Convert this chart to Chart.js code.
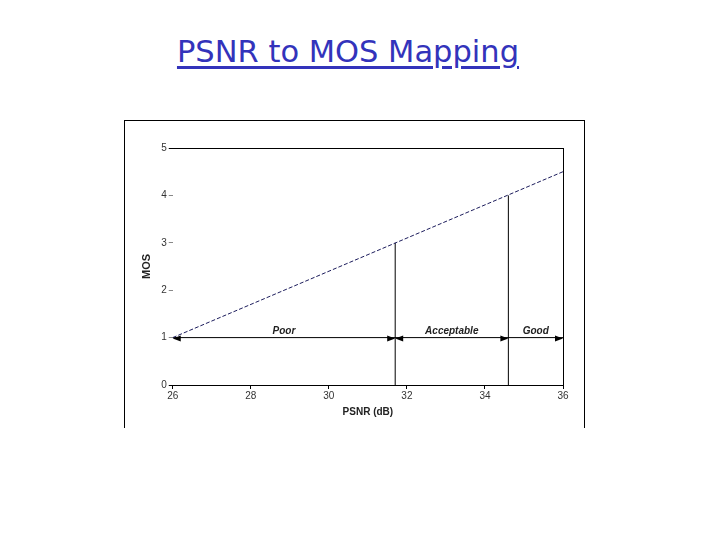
<!DOCTYPE html>
<html>
<head>
<meta charset="utf-8">
<script src="https://cdn.jsdelivr.net/npm/chart.js@4/dist/chart.umd.min.js"></script>
<style>
  body { margin: 0; background: #fff; }
  #wrap { position: relative; width: 720px; height: 540px; }
  #title {
    position: absolute; left: 0; top: 35px; width: 696px; text-align: center;
    font-family: "Comic Sans MS", "DejaVu Sans", sans-serif; font-size: 30.5px;
    color: #3333bb; text-decoration: underline; text-underline-offset: 4px;
    margin: 0; font-weight: normal; line-height: 1.1;
  }
  #frame {
    position: absolute; left: 124px; top: 120px; width: 459px; height: 307px;
    border: 1px solid #000; border-bottom: none;
  }
  canvas { position: absolute; left: 0; top: 0; }
</style>
</head>
<body>
<div id="wrap">
  <div id="frame"></div>
  <h1 id="title">PSNR to MOS Mapping</h1>
  <canvas id="chart" width="720" height="540"></canvas>
</div>
<script>
// DATOS DEL GRAFICO
const psnr = [26, 36];          // dB, extremos de la recta
const mos = [1, 4.5];           // MOS en esos extremos
const zoneEdges = [26, 31.7, 34.6, 36];
const edgeMos = [1, 3, 4, 4.5]; // altura de la recta en cada borde
const zoneNames = ["Poor", "Acceptable", "Good"];
const xTicks = [26, 28, 30, 32, 34, 36];
const yTicks = [0, 1, 2, 3, 4, 5];
const arrowLevel = 1;
const leftArrows = [26, 31.7];          // puntas hacia la izquierda
const rightArrows = [31.7, 34.6, 36];   // puntas hacia la derecha

// la recta discontinua
const mapping = psnr.map((x, i) => ({ x: x, y: mos[i] }));

// verticales en los bordes internos
const dividers = [];
for (let i = 1; i < zoneEdges.length - 1; i++) {
  dividers.push({
    data: [{ x: zoneEdges[i], y: 0 }, { x: zoneEdges[i], y: edgeMos[i] }],
    showLine: true, borderColor: "#000", borderWidth: 1, pointRadius: 0
  });
}

// textos de zona y puntas de flecha
const zoneMarks = {
  id: "zoneMarks",
  afterDatasetsDraw(chart) {
    const ctx = chart.ctx;
    const xs = chart.scales.x, ys = chart.scales.y;
    const yp = Math.round(ys.getPixelForValue(arrowLevel)) + 0.5;
    ctx.save();
    ctx.fillStyle = "#000";
    rightArrows.forEach(v => {
      const xp = xs.getPixelForValue(v);
      ctx.beginPath();
      ctx.moveTo(xp, yp);
      ctx.lineTo(xp - 8, yp - 3);
      ctx.lineTo(xp - 8, yp + 3);
      ctx.closePath();
      ctx.fill();
    });
    leftArrows.forEach(v => {
      const xp = xs.getPixelForValue(v);
      ctx.beginPath();
      ctx.moveTo(xp, yp);
      ctx.lineTo(xp + 8, yp - 3);
      ctx.lineTo(xp + 8, yp + 3);
      ctx.closePath();
      ctx.fill();
    });
    ctx.font = "italic bold 10px 'Liberation Sans', Arial, sans-serif";
    ctx.fillStyle = "#222";
    ctx.textAlign = "center";
    ctx.textBaseline = "bottom";
    zoneNames.forEach((name, i) => {
      const mid = (zoneEdges[i] + zoneEdges[i + 1]) / 2;
      ctx.fillText(name, xs.getPixelForValue(mid), yp - 2);
    });
    ctx.restore();
  }
};

const context = document.getElementById("chart").getContext("2d");
new Chart(context, {
  type: "scatter",
  data: {
    datasets: [
      {
        data: mapping, showLine: true, borderColor: "#1c1c5c", borderWidth: 1,
        borderDash: [4, 2], pointRadius: 0
      },
      {
        data: [{ x: zoneEdges[0], y: arrowLevel }, { x: zoneEdges[zoneEdges.length - 1], y: arrowLevel }],
        showLine: true, borderColor: "#000", borderWidth: 1, pointRadius: 0
      },
      ...dividers
    ]
  },
  options: {
    responsive: false,
    animation: false,
    devicePixelRatio: 1,
    layout: { padding: { left: 140, right: 157, top: 148, bottom: 122 } },
    plugins: { legend: { display: false }, tooltip: { enabled: false } },
    scales: {
      x: {
        type: "linear", min: 26, max: 36,
        afterBuildTicks: s => { s.ticks = xTicks.map(v => ({ value: v })); },
        ticks: { color: "#333", font: { family: "'Liberation Sans', Arial", size: 10 }, padding: 1 },
        grid: {
          color: c => (c.tick && c.tick.value === 36 ? "#000" : "rgba(0,0,0,0)"),
          tickColor: "#000", tickLength: 4, drawOnChartArea: true
        },
        border: { display: true, color: "#000" },
        title: {
          display: true, text: "PSNR (dB)", color: "#222",
          font: { family: "'Liberation Sans', Arial", size: 10, weight: "bold" },
          padding: { top: 3, bottom: 0 }
        }
      },
      y: {
        min: 0, max: 5,
        afterBuildTicks: s => { s.ticks = yTicks.map(v => ({ value: v })); },
        ticks: { color: "#333", font: { family: "'Liberation Sans', Arial", size: 10 }, padding: 2 },
        grid: {
          color: c => (c.tick && c.tick.value === 5 ? "#000" : "rgba(0,0,0,0)"),
          tickColor: c => (c.tick && (c.tick.value === 5 || c.tick.value === 0) ? "#000" : "#888"),
          tickLength: 4
        },
        border: { display: false },
        title: {
          display: true, text: "MOS", color: "#222",
          font: { family: "'Liberation Sans', Arial", size: 11, weight: "bold" },
          padding: { top: 0, bottom: 6 }
        }
      }
    }
  },
  plugins: [zoneMarks]
});
</script>
</body>
</html>
